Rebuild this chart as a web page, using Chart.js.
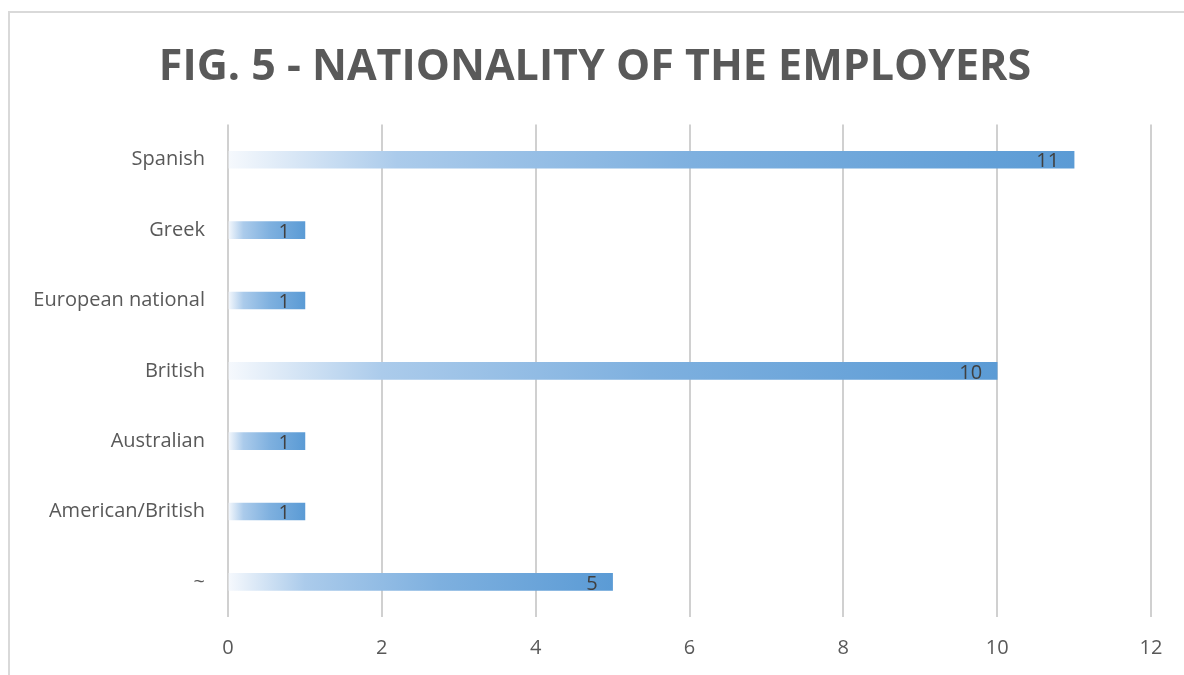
<!DOCTYPE html>
<html>
<head>
<meta charset="utf-8">
<script src="https://cdn.jsdelivr.net/npm/chart.js@4.4.1/dist/chart.umd.min.js"></script>
<style>
  html, body { margin: 0; padding: 0; background: #fff; }
  body { width: 1184px; height: 675px; overflow: hidden; position: relative; }
  #frame {
    position: absolute; left: 8px; top: 11px; width: 1200px; height: 700px;
    border-left: 2px solid #d9d9d9; border-top: 2px solid #d9d9d9;
  }
  #wrap { position: absolute; left: 0; top: 0; width: 1184px; height: 675px; }
</style>
</head>
<body>
<div id="frame"></div>
<div id="wrap"><canvas id="chart"></canvas></div>
<script>
// categories top -> bottom, as in the picture
const categories = ["Spanish", "Greek", "European national", "British", "Australian", "American/British", "~"];
const counts = [11, 1, 1, 10, 1, 1, 5];
const xTicks = [0, 2, 4, 6, 8, 10, 12];

const TEXT = "#595959";
const FONT = "'Open Sans', 'DejaVu Sans', sans-serif";

// gradient along each bar, light at 0 -> solid at the end
function barGradient(ctx) {
  const chart = ctx.chart;
  const xs = chart.scales.x;
  if (!xs || ctx.raw == null) return "#5b9bd5";
  const x0 = xs.getPixelForValue(0);
  const x1 = xs.getPixelForValue(ctx.raw);
  if (!isFinite(x0) || !isFinite(x1) || x1 <= x0) return "#5b9bd5";
  const g = chart.ctx.createLinearGradient(x0, 0, x1, 0);
  g.addColorStop(0, "#f6f9fd");
  g.addColorStop(0.2, "#abcbeb");
  g.addColorStop(0.55, "#7eb0df");
  g.addColorStop(1, "#5b9bd5");
  return g;
}

// value labels, inside end of bar
const valueLabels = {
  id: "valueLabels",
  afterDatasetsDraw(chart) {
    const c = chart.ctx;
    const meta = chart.getDatasetMeta(0);
    c.save();
    c.font = "20px " + FONT;
    c.fillStyle = "#404040";
    c.textAlign = "right";
    c.textBaseline = "middle";
    meta.data.forEach((el, i) => {
      c.fillText(String(counts[i]), el.x - 15, el.y + 2);
    });
    c.restore();
  }
};

new Chart(document.getElementById("chart"), {
  type: "bar",
  data: {
    labels: categories,
    datasets: [{
      data: counts,
      backgroundColor: barGradient,
      borderWidth: 0,
      barThickness: 17,
    }]
  },
  options: {
    indexAxis: "y",
    responsive: true,
    maintainAspectRatio: false,
    animation: false,
    layout: { padding: { left: 26, right: 20, top: 0, bottom: 0 } },
    plugins: {
      legend: { display: false },
      tooltip: { enabled: false },
      title: {
        display: true,
        text: "FIG. 5 - NATIONALITY OF THE EMPLOYERS",
        color: TEXT,
        font: { family: FONT, size: 43, weight: "bold", lineHeight: 1.2 },
        padding: { top: 42, bottom: 31 },
      },
    },
    scales: {
      x: {
        min: 0,
        max: 12,
        afterBuildTicks: (s) => { s.ticks = xTicks.map(v => ({ value: v })); },
        grid: { color: "#d0d0d0", lineWidth: 2, drawTicks: false },
        border: { display: false },
        ticks: { color: TEXT, font: { family: FONT, size: 20 }, padding: 19 },
        afterFit: (s) => { s.height = 58; },
      },
      y: {
        grid: { display: false, drawTicks: false },
        border: { display: false },
        ticks: { color: TEXT, font: { family: FONT, size: 20 }, padding: 23 },
        afterFit: (s) => { s.width = 228 - 26; },
      },
      // empty spacer on the right so the title centres over the whole frame
      spacer: {
        type: "linear",
        position: "right",
        grid: { display: false },
        border: { display: false },
        ticks: { display: false },
        afterFit: (s) => { s.width = 13; },
      }
    }
  },
  plugins: [valueLabels]
});
</script>
</body>
</html>
